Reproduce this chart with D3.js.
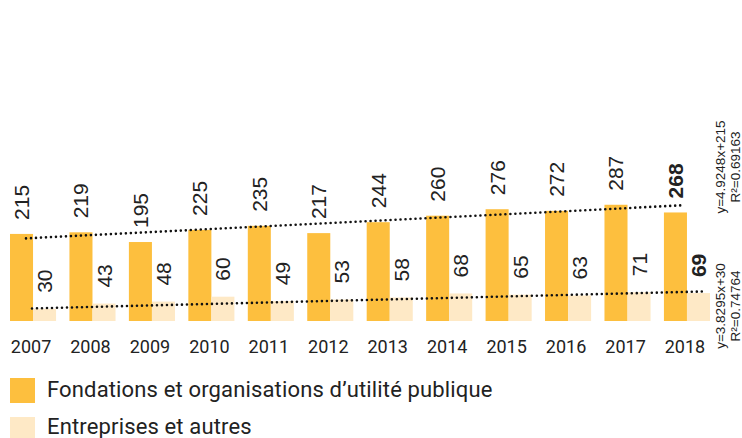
<!DOCTYPE html>
<html>
<head>
<meta charset="utf-8">
<script src="https://cdn.jsdelivr.net/npm/d3@7"></script>
<style>
  html, body { margin: 0; padding: 0; background: #fff; }
  svg { display: block; }
</style>
</head>
<body>
<svg id="chart" width="742" height="438"></svg>
<script>
const years = ["2007","2008","2009","2010","2011","2012","2013","2014","2015","2016","2017","2018"];
const fondations = [215,219,195,225,235,217,244,260,276,272,287,268];
const entreprises = [30,43,48,60,49,53,58,68,65,63,71,69];
const trendFondations = [204, 286];
const trendEntreprises = [31, 73];
const equationsFondations = ["y=4.9248x+215", "R\u00B2=0.69163"];
const equationsEntreprises = ["y=3.8295x+30", "R\u00B2=0.74764"];
const seriesNames = ["Fondations et organisations d\u2019utilit\u00E9 publique", "Entreprises et autres"];
const colors = ["#FDBF3E", "#FEE9C6"];

const svg = d3.select("#chart");
const x = d3.scaleBand().domain(years).range([10, 710]).paddingInner(0.225).paddingOuter(0);
const sub = d3.scaleBand().domain([0, 1]).range([0, x.bandwidth()]);
const y = d3.scaleLinear().domain([0, 300]).range([321, 199.5]);

const valueFont = "'Liberation Sans', Arial, sans-serif";
const textFont = "Roboto, 'Noto Sans', sans-serif";
const last = years.length - 1;

const g = svg.append("g");
const series = [fondations, entreprises];
series.forEach((vals, si) => {
  g.selectAll(".bar" + si).data(vals).enter().append("rect")
    .attr("x", (d, i) => x(years[i]) + sub(si))
    .attr("y", d => y(d))
    .attr("width", sub.bandwidth())
    .attr("height", d => y(0) - y(d))
    .attr("fill", colors[si]);
});

// trend lines
function trend(vals, x0off, x1off) {
  g.append("line")
    .attr("x1", x(years[0]) + x0off).attr("y1", y(vals[0]))
    .attr("x2", x(years[last]) + x1off).attr("y2", y(vals[1]))
    .attr("stroke", "#111").attr("stroke-width", 2.6)
    .attr("stroke-linecap", "round").attr("stroke-dasharray", "0 5");
}
trend(trendFondations, 16, 21);
trend(trendEntreprises, 22, 41);

// value labels
const labelGap = [14, 16];
series.forEach((vals, si) => {
  g.selectAll(".lbl" + si).data(vals).enter().append("text")
    .attr("transform", (d, i) => {
      const cx = x(years[i]) + sub(si) + sub.bandwidth() / 2;
      return `translate(${cx + 7.5},${y(d) - labelGap[si]}) rotate(-90)`;
    })
    .attr("font-family", valueFont)
    .attr("font-size", 21)
    .attr("font-weight", (d, i) => i === last ? "bold" : "normal")
    .attr("fill", "#222")
    .text(d => d);
});

// equations
function eq(lines, cy) {
  lines.forEach((t, k) => {
    g.append("text")
      .attr("transform", `translate(${725 + k * 14.5},${cy}) rotate(-90)`)
      .attr("text-anchor", "middle")
      .attr("font-family", valueFont)
      .attr("font-size", 13.5)
      .attr("fill", "#222")
      .text(t);
  });
}
eq(equationsFondations, 167);
eq(equationsEntreprises, 306);

// x axis labels
const xAxis = d3.axisBottom(x).tickSize(0).tickPadding(0);
const ax = svg.append("g").attr("transform", "translate(-2,340)").call(xAxis);
ax.select(".domain").remove();
ax.selectAll("text")
  .attr("font-family", textFont)
  .attr("font-size", 18)
  .attr("fill", "#222")
  .attr("dy", "0.71em");

// legend
const leg = svg.append("g");
seriesNames.forEach((name, i) => {
  const ly = 378 + i * 39;
  leg.append("rect").attr("x", 10).attr("y", ly).attr("width", 25).attr("height", 25).attr("fill", colors[i]);
  leg.append("text").attr("x", 47).attr("y", ly + 19 - i * 2)
    .attr("font-family", textFont).attr("font-size", 22)
    .attr("letter-spacing", 0.15).attr("fill", "#222").text(name);
});
</script>
</body>
</html>
